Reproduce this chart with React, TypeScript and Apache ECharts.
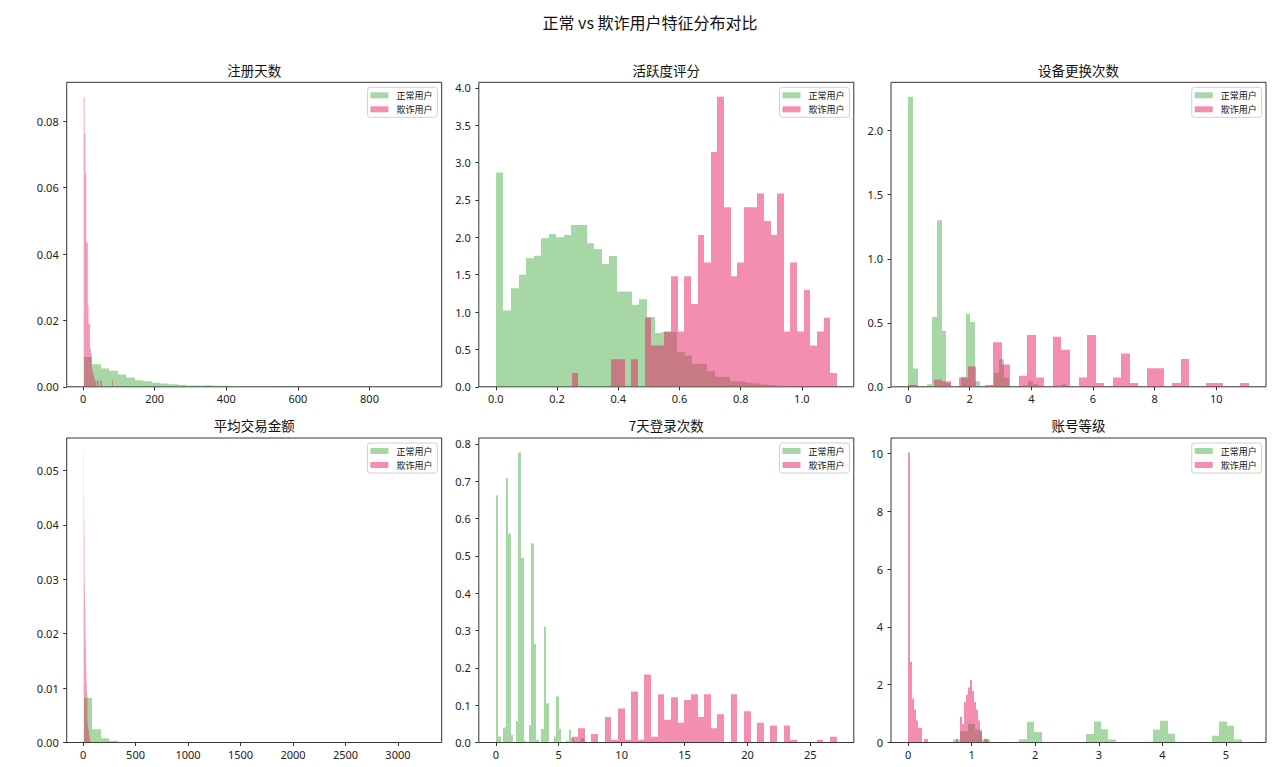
import React, { useEffect, useRef } from 'react';
import * as echarts from 'echarts';

// ---------------- text ----------------
const MAIN_TITLE = '正常 vs 欺诈用户特征分布对比';
const SERIES_NAMES = ['正常用户', '欺诈用户'];
const FEATURE_TITLES = ['注册天数', '活跃度评分', '设备更换次数', '平均交易金额', '7天登录次数', '账号等级'];

// ---------------- data (density histograms, 40 bins each) ----------------
// 注册天数
const regDaysNormalStart = 2;
const regDaysNormalWidth = 23.8;
const regDaysNormalDensity = [
  0.009, 0.0068, 0.0055, 0.0048, 0.0037, 0.0028, 0.002, 0.0017, 0.0012, 0.001,
  0.0008, 0.0006, 0.0004, 0.0004, 0.0005, 0.0003, 0.0003, 0.0002, 0.00015, 0.0001,
  0.0001, 0.00008, 0.00005, 0.00005, 0.00004, 0.00003, 0.00002, 0.00002, 0.00001, 0.00001,
  0.00001, 0, 0.00001, 0, 0, 0.00001, 0, 0, 0, 0.00001,
];
const regDaysFraudStart = 1.9;
const regDaysFraudWidth = 2.2;
const regDaysFraudDensity = [
  0.0874, 0.0762, 0.0642, 0.0436, 0.0436, 0.0245, 0.019, 0.019, 0.0115, 0.0098,
  0.0055, 0.0045, 0.0036, 0.0027, 0.0018, 0.0018, 0, 0.0018, 0.0018, 0,
  0, 0.0018, 0.0018, 0, 0, 0, 0, 0, 0, 0,
  0, 0, 0, 0, 0, 0, 0.0018, 0, 0, 0,
];

// 活跃度评分
const activityNormalStart = 0;
const activityNormalWidth = 0.0247;
const activityNormalDensity = [
  2.867, 1.022, 1.32, 1.5, 1.72, 1.755, 1.987, 2.044, 2.0, 2.03,
  2.164, 2.164, 1.92, 1.84, 1.644, 1.75, 1.276, 1.276, 1.098, 1.173,
  0.933, 0.72, 0.733, 0.733, 0.467, 0.42, 0.31, 0.31, 0.213, 0.133,
  0.133, 0.075, 0.075, 0.053, 0.044, 0.03, 0.02, 0.015, 0.01, 0.005,
];
const activityFraudStart = 0.248;
const activityFraudWidth = 0.02165;
const activityFraudDensity = [
  0.185, 0, 0, 0, 0, 0, 0.37, 0.37, 0, 0.37,
  0, 0.924, 0.554, 0.554, 0.739, 1.478, 0.739, 1.478, 1.109, 2.033,
  1.663, 3.142, 3.881, 2.402, 1.478, 1.663, 2.402, 2.402, 2.587, 2.218,
  2.033, 2.587, 0.739, 1.663, 0.739, 1.294, 0.554, 0.739, 0.924, 0.185,
];

// 设备更换次数
const deviceNormalStart = 0;
const deviceNormalWidth = 0.1556;
const deviceNormalDensity = [
  2.265, 0.143, 0, 0, 0.02, 0.545, 1.3, 0.436, 0.03, 0,
  0, 0.078, 0.571, 0.506, 0.044, 0, 0, 0.01, 0.109, 0.216,
  0.07, 0.005, 0, 0, 0.01, 0.044, 0.02, 0, 0, 0,
  0, 0.01, 0.02, 0, 0, 0, 0, 0, 0.005, 0.005,
];
const deviceFraudStart = 0;
const deviceFraudWidth = 0.2765;
const deviceFraudDensity = [
  0.0145, 0, 0, 0.0579, 0.0434, 0, 0.0723, 0.1592, 0, 0.0145,
  0.3473, 0.1736, 0, 0.0868, 0.4052, 0.0723, 0, 0.3907, 0.2894, 0,
  0.0723, 0.4052, 0.0289, 0, 0.0723, 0.2604, 0.0289, 0, 0.1447, 0.1447,
  0, 0.0289, 0.217, 0, 0, 0.0289, 0.0289, 0, 0, 0.0289,
];

// 平均交易金额
const amountNormalStart = 6.5;
const amountNormalWidth = 81.2;
const amountNormalDensity = [
  0.00817, 0.00245, 0.0008, 0.0003, 0.0001, 0.00005, 0.00003, 0.00002, 0.00001, 0.00001,
  0.00001, 0, 0.00001, 0, 0, 0, 0, 0, 0, 0,
  0, 0, 0, 0, 0, 0, 0, 0, 0, 0,
  0, 0, 0, 0, 0, 0, 0, 0, 0, 0.00001,
];
const amountFraudStart = 6.5;
const amountFraudWidth = 1.6;
const amountFraudDensity = [
  0.0533, 0.045, 0.041, 0.038, 0.031, 0.027, 0.029, 0.026, 0.0247, 0.021,
  0.019, 0.017, 0.018, 0.015, 0.013, 0.012, 0.011, 0.0105, 0.0095, 0.009,
  0.0088, 0.0085, 0.0039, 0.0035, 0.003, 0.0035, 0.0025, 0.003, 0.002, 0.0025,
  0.0015, 0.002, 0.001, 0.0015, 0.001, 0.0005, 0.0005, 0.001, 0, 0.0005,
];

// 7天登录次数
const loginNormalStart = 0;
const loginNormalWidth = 0.2;
const loginNormalDensity = [
  0.662, 0.016, 0, 0.04, 0.709, 0.56, 0.02, 0, 0.057, 0.777,
  0.494, 0.005, 0, 0.047, 0.534, 0.264, 0.007, 0, 0.036, 0.31,
  0.105, 0, 0, 0.016, 0.123, 0.036, 0, 0, 0.005, 0.034,
  0.012, 0, 0, 0, 0.012, 0.004, 0, 0, 0, 0.002,
];
const loginFraudStart = 6.02;
const loginFraudWidth = 0.527;
const loginFraudDensity = [
  0.0152, 0.038, 0, 0.0228, 0, 0.0683, 0.0076, 0.0911, 0.0076, 0.1366,
  0.0076, 0.1822, 0.0152, 0.129, 0.0607, 0.1214, 0.0531, 0.1138, 0.129, 0.0683,
  0.129, 0.038, 0.0759, 0, 0.129, 0, 0.0835, 0, 0.0531, 0,
  0.0455, 0, 0.0455, 0.0076, 0, 0, 0, 0.0076, 0, 0.0152,
];

// 账号等级
const levelNormalStart = 0.705;
const levelNormalWidth = 0.1164;
const levelNormalDensity = [
  0.1, 0.39, 0.65, 0.45, 0.1, 0.01, 0, 0, 0.01, 0.11,
  0.72, 0.36, 0.03, 0.01, 0, 0, 0, 0.02, 0.29, 0.73,
  0.46, 0.1, 0.01, 0, 0, 0, 0.03, 0.45, 0.75, 0.3,
  0.03, 0, 0, 0, 0.01, 0.23, 0.73, 0.58, 0.1, 0.02,
];
const levelFraudStart = 0;
const levelFraudWidth = 0.0315;
const levelFraudDensity = [
  10.03, 2.79, 1.52, 1.14, 0.76, 0.51, 0.51, 0, 0.13, 0.13,
  0, 0, 0, 0, 0, 0, 0, 0, 0, 0,
  0, 0, 0, 0, 0.13, 0, 0.89, 0.63, 1.4, 1.65,
  1.9, 2.16, 1.78, 1.4, 1.14, 0.76, 0.38, 0, 0.13, 0.13,
];

// ---------------- tick labels ----------------
const regDaysXTicks = [0, 200, 400, 600, 800];
const regDaysYTicks = [0, 0.02, 0.04, 0.06, 0.08];
const activityXTicks = [0, 0.2, 0.4, 0.6, 0.8, 1.0];
const activityYTicks = [0, 0.5, 1.0, 1.5, 2.0, 2.5, 3.0, 3.5, 4.0];
const deviceXTicks = [0, 2, 4, 6, 8, 10];
const deviceYTicks = [0, 0.5, 1.0, 1.5, 2.0];
const amountXTicks = [0, 500, 1000, 1500, 2000, 2500, 3000];
const amountYTicks = [0, 0.01, 0.02, 0.03, 0.04, 0.05];
const loginXTicks = [0, 5, 10, 15, 20, 25];
const loginYTicks = [0, 0.1, 0.2, 0.3, 0.4, 0.5, 0.6, 0.7, 0.8];
const levelXTicks = [0, 1, 2, 3, 4, 5];
const levelYTicks = [0, 2, 4, 6, 8, 10];

const PANELS = [
  { title: FEATURE_TITLES[0], n: [regDaysNormalStart, regDaysNormalWidth, regDaysNormalDensity], f: [regDaysFraudStart, regDaysFraudWidth, regDaysFraudDensity], xt: regDaysXTicks, yt: regDaysYTicks, xd: 0, yd: 2 },
  { title: FEATURE_TITLES[1], n: [activityNormalStart, activityNormalWidth, activityNormalDensity], f: [activityFraudStart, activityFraudWidth, activityFraudDensity], xt: activityXTicks, yt: activityYTicks, xd: 1, yd: 1 },
  { title: FEATURE_TITLES[2], n: [deviceNormalStart, deviceNormalWidth, deviceNormalDensity], f: [deviceFraudStart, deviceFraudWidth, deviceFraudDensity], xt: deviceXTicks, yt: deviceYTicks, xd: 0, yd: 1 },
  { title: FEATURE_TITLES[3], n: [amountNormalStart, amountNormalWidth, amountNormalDensity], f: [amountFraudStart, amountFraudWidth, amountFraudDensity], xt: amountXTicks, yt: amountYTicks, xd: 0, yd: 2 },
  { title: FEATURE_TITLES[4], n: [loginNormalStart, loginNormalWidth, loginNormalDensity], f: [loginFraudStart, loginFraudWidth, loginFraudDensity], xt: loginXTicks, yt: loginYTicks, xd: 0, yd: 1 },
  { title: FEATURE_TITLES[5], n: [levelNormalStart, levelNormalWidth, levelNormalDensity], f: [levelFraudStart, levelFraudWidth, levelFraudDensity], xt: levelXTicks, yt: levelYTicks, xd: 0, yd: 0 },
] as any[];

// ---------------- layout / style ----------------
const COL_LEFT = [66.7, 478.8, 891];
const ROW_TOP = [82.3, 438];
const PLOT_W = 375;
const PLOT_H = 304.5;
const GREEN = 'rgba(77,175,74,0.5)';
const PINK = 'rgba(233,30,99,0.5)';
const CJK = '"Noto Sans CJK SC", "Noto Sans", sans-serif';
const NUM = '"Noto Sans", "DejaVu Sans", sans-serif';

function binsToData(start: number, width: number, dens: number[]) {
  const out: number[][] = [];
  dens.forEach((h, k) => {
    if (h > 0) out.push([start + k * width, start + (k + 1) * width, h]);
  });
  return out;
}

function makeRender(fill: string) {
  return (params: any, api: any) => {
    const x0 = api.value(0);
    const x1 = api.value(1);
    const h = api.value(2);
    const p0 = api.coord([x0, h]);
    const p1 = api.coord([x1, 0]);
    let left = p0[0];
    let right = p1[0];
    // snap wide bars to whole pixels (as matplotlib does) to avoid seams
    if (right - left >= 1.5) {
      left = Math.round(left);
      right = Math.round(right);
    }
    return {
      type: 'rect',
      shape: { x: left, y: p0[1], width: right - left, height: p1[1] - p0[1] },
      style: { fill },
    };
  };
}

function buildOption() {
  const grid: any[] = [];
  const xAxis: any[] = [];
  const yAxis: any[] = [];
  const series: any[] = [];
  const title: any[] = [
    {
      text: MAIN_TITLE,
      left: 650,
      top: 14,
      textAlign: 'center',
      padding: 0,
      textStyle: { fontFamily: CJK, fontSize: 16, fontWeight: 'normal', color: '#111' },
    },
  ];
  const legend: any[] = [];

  PANELS.forEach((p, i) => {
    const col = i % 3;
    const row = Math.floor(i / 3);
    const left = COL_LEFT[col];
    const top = ROW_TOP[row];
    grid.push({ left, top, width: PLOT_W, height: PLOT_H, show: true, borderColor: '#333', borderWidth: 1, backgroundColor: 'transparent' });

    const [ns, nw, nd] = p.n;
    const [fs, fw, fd] = p.f;
    const lo = Math.min(ns, fs);
    const hi = Math.max(ns + nd.length * nw, fs + fd.length * fw);
    const pad = 0.05 * (hi - lo);
    const ymax = 1.05 * Math.max(...nd, ...fd);

    xAxis.push({
      type: 'value',
      gridIndex: i,
      position: 'bottom',
      min: lo - pad,
      max: hi + pad,
      axisLine: { show: false, onZero: false },
      splitLine: { show: false },
      axisTick: { show: true, length: 3.5, lineStyle: { color: '#333', width: 1 }, customValues: p.xt },
      axisLabel: {
        customValues: p.xt,
        margin: 6,
        fontFamily: NUM,
        fontSize: 11,
        color: '#222',
        formatter: (v: number) => v.toFixed(p.xd),
      },
    });
    yAxis.push({
      type: 'value',
      gridIndex: i,
      position: 'left',
      min: 0,
      max: ymax,
      axisLine: { show: false, onZero: false },
      splitLine: { show: false },
      axisTick: { show: true, length: 3.5, lineStyle: { color: '#333', width: 1 }, customValues: p.yt },
      axisLabel: {
        customValues: p.yt,
        margin: 8,
        fontFamily: NUM,
        fontSize: 11,
        color: '#222',
        formatter: (v: number) => v.toFixed(p.yd),
      },
    });

    series.push({
      name: SERIES_NAMES[0],
      type: 'custom',
      xAxisIndex: i,
      yAxisIndex: i,
      data: binsToData(ns, nw, nd),
      encode: { x: [0, 1], y: 2 },
      renderItem: makeRender(GREEN),
      itemStyle: { color: GREEN },
      clip: true,
      silent: true,
      z: 2,
    });
    series.push({
      name: SERIES_NAMES[1],
      type: 'custom',
      xAxisIndex: i,
      yAxisIndex: i,
      data: binsToData(fs, fw, fd),
      encode: { x: [0, 1], y: 2 },
      renderItem: makeRender(PINK),
      itemStyle: { color: PINK },
      clip: true,
      silent: true,
      z: 3,
    });

    title.push({
      text: p.title,
      left: left + PLOT_W / 2,
      top: top - 19.5,
      textAlign: 'center',
      padding: 0,
      textStyle: { fontFamily: CJK, fontSize: 13.5, fontWeight: 'normal', color: '#111' },
    });

    legend.push({
      orient: 'vertical',
      right: 1280 - (left + PLOT_W - 4.3),
      top: top + 5,
      padding: [3, 5, 3, 3],
      itemWidth: 18,
      itemHeight: 6,
      itemGap: 4,
      icon: 'rect',
      borderColor: '#d0d0d0',
      borderWidth: 1,
      borderRadius: 3,
      backgroundColor: 'rgba(255,255,255,0.8)',
      selectedMode: false,
      textStyle: { fontFamily: CJK, fontSize: 9, lineHeight: 10, color: '#111', padding: [0, 0, 0, 3] },
      data: [
        { name: SERIES_NAMES[0], itemStyle: { color: GREEN } },
        { name: SERIES_NAMES[1], itemStyle: { color: PINK } },
      ],
    });
  });

  return {
    animation: false,
    backgroundColor: '#ffffff',
    title,
    legend,
    grid,
    xAxis,
    yAxis,
    series,
  };
}

export default function App() {
  const ref = useRef<HTMLDivElement>(null);
  useEffect(() => {
    if (!ref.current) return;
    const chart = echarts.init(ref.current, undefined, { renderer: 'svg' });
    chart.setOption(buildOption() as any);
    return () => chart.dispose();
  }, []);
  return <div ref={ref} style={{ position: 'absolute', left: 0, top: 0, width: 1280, height: 767 }} />;
}
